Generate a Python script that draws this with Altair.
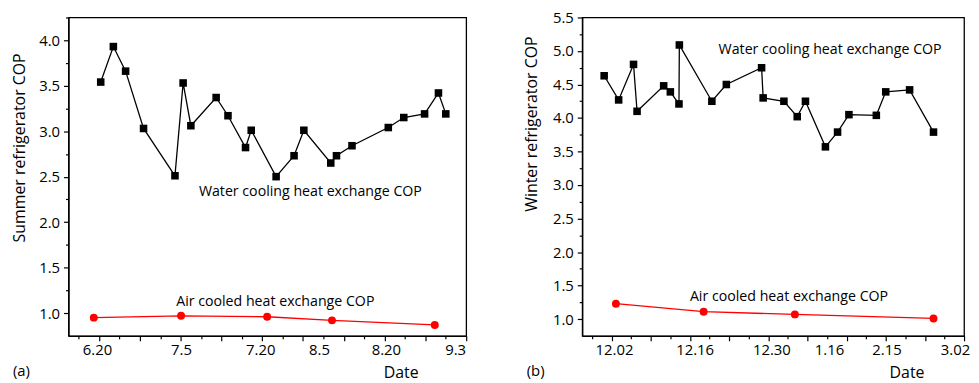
import altair as alt
import pandas as pd

FONT = "Open Sans"

# ---------- Summer (a) ----------
s_water_x = [0.04, 0.35, 0.65, 1.09, 1.86, 2.06, 2.25, 2.87, 3.16, 3.59, 3.73,
             4.34, 4.78, 5.02, 5.68, 5.82, 6.20, 7.09, 7.47, 7.98, 8.32, 8.50]
s_water_y = [3.54, 3.93, 3.66, 3.03, 2.51, 3.53, 3.06, 3.37, 3.17, 2.82, 3.01,
             2.50, 2.73, 3.01, 2.65, 2.73, 2.84, 3.04, 3.15, 3.19, 3.42, 3.19]
s_air_x = [-0.13, 2.01, 4.12, 5.71, 8.23]
s_air_y = [0.95, 0.97, 0.96, 0.92, 0.87]
s_label_pos = [-0.05, 2.01, 3.95, 5.39, 7.03, 8.73]
s_label_txt = ["6.20", "7.5", "7.20", "8.5", "8.20", "9.3"]

# ---------- Winter (b) ----------
w_water_x = [-0.19, 0.18, 0.56, 0.65, 1.33, 1.50, 1.72, 1.73, 2.56, 2.93, 3.83,
             3.87, 4.40, 4.74, 4.95, 5.46, 5.77, 6.06, 6.76, 7.00, 7.61, 8.22]
w_water_y = [4.63, 4.27, 4.80, 4.10, 4.48, 4.39, 4.21, 5.09, 4.25, 4.50, 4.75,
             4.30, 4.25, 4.02, 4.25, 3.57, 3.79, 4.05, 4.04, 4.39, 4.42, 3.79]
w_air_x = [0.11, 2.35, 4.68, 8.22]
w_air_y = [1.23, 1.11, 1.07, 1.01]
w_label_pos = [0.06, 2.12, 4.08, 5.55, 7.02, 8.77]
w_label_txt = ["12.02", "12.16", "12.30", "1.16", "2.15", "3.02"]

x_ticks = [i * 0.5 for i in range(-1, 19)]   # -0.5 .. 9
x_domain = [-0.75, 9]


def panel(wx, wy, ax, ay, ydom, ytitle, lab_pos, lab_txt, ann, tag, width,
          ytitle_x, ytitle_y, xtitle_x):
    height = 321
    expr = "''"
    for p, t in reversed(list(zip(lab_pos, lab_txt))):
        expr = f"datum.value === {p} ? '{t}' : ({expr})"
    allx = sorted(x_ticks + lab_pos)
    xaxis = alt.Axis(
        values=allx, labelExpr=expr, grid=False,
        labelOverlap=False, labelFlush=False, labelBound=False,
        tickSize={"condition": {"test": "datum.value % 1 === 0", "value": 5}, "value": 3},
        tickOpacity={"condition": {"test": f"indexof({lab_pos}, datum.value) >= 0", "value": 0}, "value": 1},
        labelPadding=4,
        title="Date", titleX=xtitle_x, titleY=37, titleBaseline="middle",
        titleAlign="center",
    )
    yvals = []
    v = 1.0
    while v <= ydom[1] + 1e-9:
        yvals.append(round(v, 2))
        v += 0.25
    yaxis = alt.Axis(
        values=yvals, grid=False, labelOverlap=False, labelFlush=False,
        labelBound=False,
        labelExpr="datum.value % 0.5 === 0 ? format(datum.value, '.1f') : ''",
        tickSize={"condition": {"test": "datum.value % 0.5 === 0", "value": 5}, "value": 3},
        labelPadding=4,
        title=ytitle, titleX=ytitle_x, titleY=ytitle_y, titleAngle=270,
        titleAlign="center", titleBaseline="middle",
    )
    xs = alt.Scale(domain=x_domain, nice=False, zero=False)
    ys = alt.Scale(domain=ydom, nice=False, zero=False)
    X = alt.X("x:Q", scale=xs, axis=xaxis)
    Y = alt.Y("y:Q", scale=ys, axis=yaxis)

    dw = pd.DataFrame({"x": wx, "y": wy})
    da = pd.DataFrame({"x": ax, "y": ay})
    dt = pd.DataFrame(ann)

    base_w = alt.Chart(dw).encode(x=X, y=Y)
    wline = base_w.mark_line(color="black", strokeWidth=1.3)
    wpts = base_w.mark_point(shape="square", filled=True, size=58, color="black", opacity=1)
    base_a = alt.Chart(da).encode(x=X, y=Y)
    aline = base_a.mark_line(color="#ff0000", strokeWidth=1.3)
    apts = base_a.mark_circle(size=64, color="#ff0000", opacity=1)
    txt = alt.Chart(dt).mark_text(font=FONT, fontSize=14.3, color="black").encode(
        x=X, y=Y, text="t:N")
    tg = alt.Chart(pd.DataFrame({"t": [tag]})).mark_text(
        font=FONT, fontSize=15, color="black", align="left", baseline="middle"
    ).encode(x=alt.value(-56), y=alt.value(357), text="t:N")
    return alt.layer(wline, wpts, aline, apts, txt, tg).properties(width=width, height=height)


left = panel(s_water_x, s_water_y, s_air_x, s_air_y, [0.75, 4.25],
             "Summer refrigerator COP", s_label_pos, s_label_txt,
             {"x": [5.18, 4.32], "y": [2.33, 1.12],
              "t": ["Water cooling heat exchange COP", "Air cooled heat exchange COP"]},
             "(a)", 401, -49, 131, 335)
right = panel(w_water_x, w_water_y, w_air_x, w_air_y, [0.75, 5.5],
              "Winter refrigerator COP", w_label_pos, w_label_txt,
              {"x": [5.58, 4.53], "y": [5.01, 1.33],
               "t": ["Water cooling heat exchange COP", "Air cooled heat exchange COP"]},
              "(b)", 385, -51, 107, 327)

chart = alt.hconcat(left, right, spacing=55).properties(
    padding={"left": 3, "top": 0, "right": 0, "bottom": 0}
).configure_view(stroke="black", strokeWidth=1.3).configure_axis(
    labelFont=FONT, titleFont=FONT, labelFontSize=15, titleFontSize=16,
    labelColor="black", titleColor="black", domainColor="black", tickColor="black",
    domainWidth=1.3, tickWidth=1.2, titleFontWeight="normal",
)

chart.save("out.html", embed_options={"renderer": "svg", "actions": False})
